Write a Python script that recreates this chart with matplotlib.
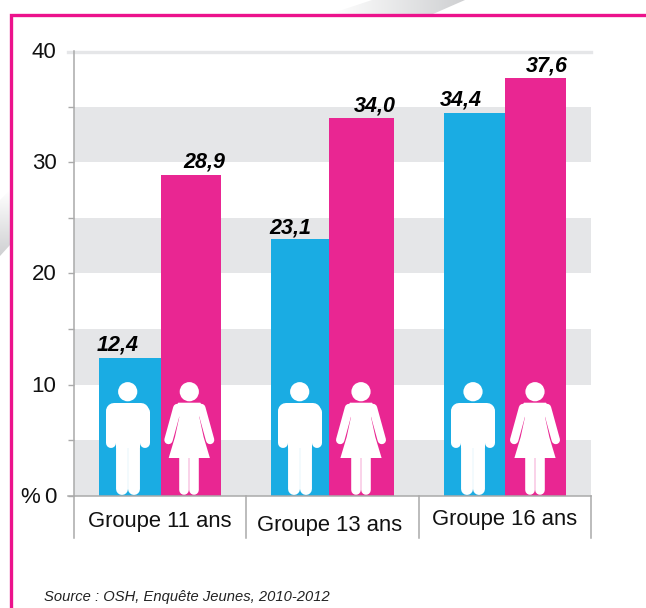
#!/usr/bin/python
"""Share of pupils by age group and sex, bar chart with pictograms."""

import numpy as np
import matplotlib
matplotlib.use('Agg')
import matplotlib.pyplot as plt
from matplotlib.colors import LinearSegmentedColormap
from matplotlib.patches import Rectangle, Circle, Polygon

groups = ['Groupe 11 ans', 'Groupe 13 ans', 'Groupe 16 ans']
boys = [12.4, 23.1, 34.4]
girls = [28.9, 34.0, 37.6]
boys_labels = ['12,4', '23,1', '34,4']
girls_labels = ['28,9', '34,0', '37,6']
y_ticks = [0, 10, 20, 30, 40]
source = 'Source : OSH, Enquête Jeunes, 2010-2012'

BLUE = '#1aace3'
PINK = '#e92692'
FRAME = '#ec128c'
GREY = '#e5e6e8'
AXIS = '#aaaaaa'

W, H = 646, 608
X0, X1 = 73.7, 591
Y0, Y40 = 495.7, 51.2
PX = 0.72  # points per pixel at dpi 100

# pixel extents of each bar (left, split, right)
bar_edges = [(99, 161, 221), (271, 329, 394), (444, 505, 566)]
separators = [73.7, 245.7, 419, 590.5]
group_label_pos = [(160, 521), (330, 525), (505, 520)]
boy_label_pos = [(117.5, 345), (290, 228), (461, 100)]
girl_label_pos = [(204.5, 162), (375, 106), (547, 66)]
man_x = [127.7, 299.7, 473]
woman_x = [189.3, 361, 535]

plt.rcParams['font.family'] = ['Liberation Sans', 'DejaVu Sans']


def limb(ax, xs, ys, width):
    """Round-capped white stroke, width in pixels."""
    ax.plot(xs, ys, color='white', lw=width * PX, solid_capstyle='round', zorder=6)


def draw_man(ax, cx):
    """Pictogram of a man, coordinates in figure pixels."""
    ax.add_patch(Circle((cx, 391.7), 9.6, color='white', lw=0, zorder=6))
    # shoulders
    limb(ax, [cx - 13.7, cx + 13.7], [410.7, 410.7], 16)
    # arms
    for side in (-1, 1):
        limb(ax, [cx + side * 16.9, cx + side * 16.9], [412, 443], 10)
    # torso and legs
    ax.add_patch(Rectangle((cx - 12.2, 410), 24.4, 38, color='white', lw=0, zorder=6))
    for side in (-1, 1):
        limb(ax, [cx + side * 6.1, cx + side * 6.1], [445, 489], 11.9)


def draw_woman(ax, cx):
    """Pictogram of a woman, coordinates in figure pixels."""
    ax.add_patch(Circle((cx, 391.7), 9.6, color='white', lw=0, zorder=6))
    ax.add_patch(Polygon([(cx - 11, 402.7), (cx + 11, 402.7), (cx + 14.5, 408),
                          (cx + 10, 417), (cx + 14.3, 437), (cx + 20.6, 458),
                          (cx - 20.6, 458), (cx - 14.3, 437), (cx - 10, 417),
                          (cx - 14.5, 408)], closed=True, color='white', lw=0, zorder=6))
    # arms
    for side in (-1, 1):
        limb(ax, [cx + side * 12, cx + side * 20.8], [408, 440], 8.4)
    for side in (-1, 1):
        limb(ax, [cx + side * 5.1, cx + side * 5.1], [455, 490], 9.6)


def swoosh(ax, points, direction):
    """Grey gradient polygon from the page background, clipped to its outline."""
    xs, ys = zip(*points)
    ramp = np.linspace(0, 1, 128)
    grad = ramp[None, :] if direction == 'x' else ramp[:, None]
    cmap = LinearSegmentedColormap.from_list('sw', ['#ffffff', '#cfd0d2'])
    img = ax.imshow(grad, cmap=cmap, aspect='auto', origin='upper',
                    extent=(min(xs), max(xs), max(ys), min(ys)), zorder=1)
    clip = Polygon(points, closed=True, transform=ax.transData)
    img.set_clip_path(clip)


def main():
    fig = plt.figure(figsize=(W / 100, H / 100), dpi=100, facecolor='white')

    back = fig.add_axes([0, 0, 1, 1], zorder=0)
    # decorative swoosh behind the frame
    swoosh(back, [(330, 14), (372, 0), (465, 0), (433, 14)], 'x')
    swoosh(back, [(0, 256), (0, 200), (10, 190), (10, 245)], 'y')
    back.set_xlim(0, W)
    back.set_ylim(H, 0)
    back.axis('off')
    back.add_patch(Rectangle((10.5, 14.5), W, H, facecolor='white', edgecolor=FRAME,
                             lw=2.4, zorder=2))
    back.plot([68, 591], [Y40 + 0.5, Y40 + 0.5], color=GREY, lw=2.4, zorder=3)

    ax = fig.add_axes([X0 / W, 1 - Y0 / H, (X1 - X0) / W, (Y0 - Y40) / H], zorder=2)
    ax.patch.set_alpha(0)
    ax.set_xlim(X0, X1)
    ax.set_ylim(0, 40)

    # alternating grey bands
    for low in np.arange(0, 40, 10):
        ax.axhspan(low, low + 5, color=GREY, lw=0, zorder=0)

    for i in range(len(groups)):
        left, mid, right = bar_edges[i]
        ax.bar(left, boys[i], width=mid - left, align='edge', color=BLUE, zorder=2)
        ax.bar(mid, girls[i], width=right - mid, align='edge', color=PINK, zorder=2)

    for side in ('top', 'right', 'bottom'):
        ax.spines[side].set_visible(False)
    ax.spines['left'].set_color(AXIS)
    ax.spines['left'].set_linewidth(1.1)
    ax.set_xticks([])
    ax.set_yticks(np.arange(0, 40, 5))
    ax.set_yticklabels([])
    ax.tick_params(axis='y', length=4.2, width=1, color=AXIS)

    # overlay in pixel coordinates for pictograms and free labels
    over = fig.add_axes([0, 0, 1, 1], zorder=5)
    over.set_xlim(0, W)
    over.set_ylim(H, 0)
    over.axis('off')
    over.patch.set_alpha(0)

    for val in y_ticks:
        y = Y0 + (Y40 - Y0) * val / 40
        over.text(56.5, y + 1.5, str(val), ha='right', va='center', fontsize=16, color='#111111')
    over.text(20, Y0 + 1.5, '%', ha='left', va='center', fontsize=16, color='#111111')

    # baseline and category separators
    over.plot([68, 591], [Y0, Y0], color=AXIS, lw=1.1, zorder=3)
    for x in separators:
        over.plot([x, x], [Y0, 537.6], color=AXIS, lw=1.1, zorder=3)

    for i, name in enumerate(groups):
        x, y = group_label_pos[i]
        over.text(x, y, name, ha='center', va='center', fontsize=15.8, color='#111111')

    value_style = dict(ha='center', va='center', fontsize=15.5, fontweight='bold',
                       fontstyle='italic', color='black')
    for i in range(len(groups)):
        over.text(*boy_label_pos[i], boys_labels[i], **value_style)
        over.text(*girl_label_pos[i], girls_labels[i], **value_style)
        draw_man(over, man_x[i])
        draw_woman(over, woman_x[i])

    over.text(44, 597, source, ha='left', va='center', fontsize=10.6, fontstyle='italic',
              color='#222222')

    fig.savefig('out.png', dpi=100)
    plt.close(fig)


if __name__ == '__main__':
    main()
